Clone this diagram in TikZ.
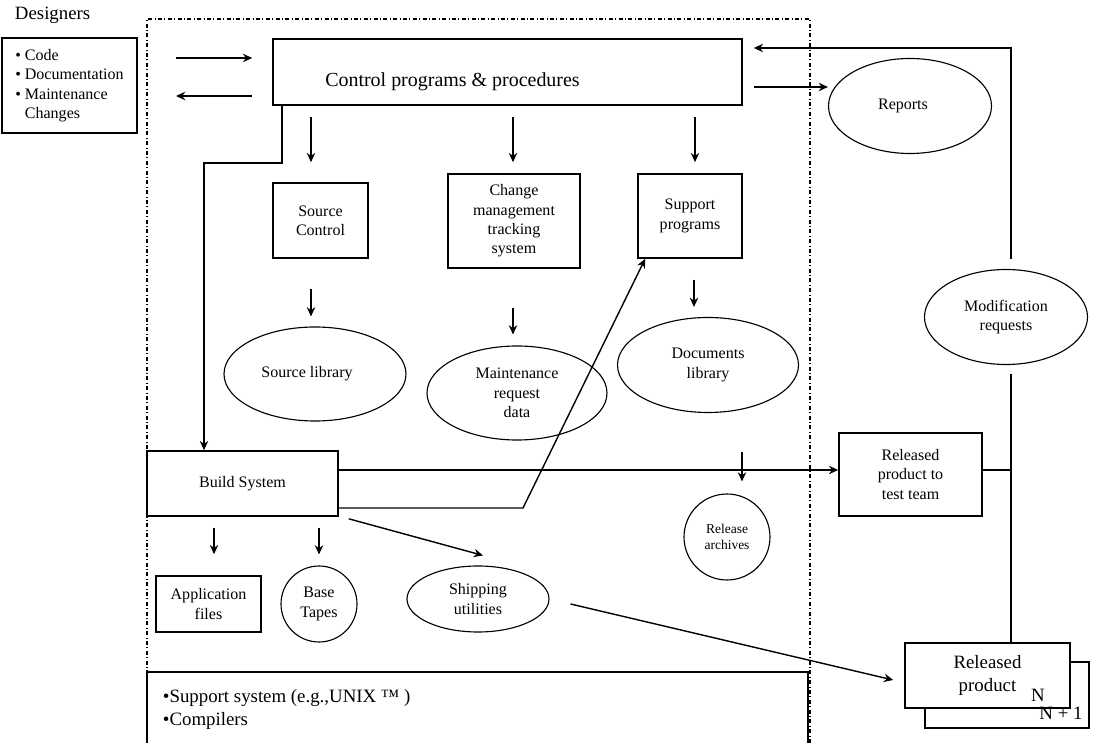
\documentclass[tikz,border=0pt]{standalone}
\usepackage{fontspec}
\setmainfont{Liberation Serif}
\usetikzlibrary{arrows.meta,shapes.geometric}

\newcommand{\txtnormal}{\fontsize{11.4pt}{13.8pt}\selectfont}
\newcommand{\txtlarge}{\fontsize{13.4pt}{16.4pt}\selectfont}
\newcommand{\txtctrl}{\fontsize{14.2pt}{17pt}\selectfont}
\newcommand{\txtsmall}{\fontsize{9.6pt}{11.4pt}\selectfont}

\begin{document}
\begin{tikzpicture}[x=0.25mm, y=-0.25mm,
  box/.style={draw, rectangle, line width=1.2pt, inner sep=0pt, align=center, font=\txtnormal},
  oval/.style={draw, ellipse, line width=0.8pt, inner sep=0pt, align=center, font=\txtnormal},
  disc/.style={draw, circle, line width=0.8pt, inner sep=0pt, align=center, font=\txtnormal},
  arr/.style={-{Stealth[length=2.3mm, width=2.1mm]}, line width=1pt},
  link/.style={line width=1pt},
  boundary/.style={line width=0.8pt, dash pattern=on 1mm off 0.6mm on 0.25mm off 0.6mm}]
  \useasboundingbox (0,0) rectangle (1096,743);

  % designers, outside the system
  \node[anchor=base west, font=\txtlarge] (designers) at (10,20) {Designers};
  \node[box, align=left, minimum width=33.75mm, minimum height=23.75mm] (devbox) at (69.5,85.5)
    {• Code\\• Documentation\\• Maintenance\\\phantom{• }Changes};

  % the configuration management system
  \draw[boundary] (147,743) |- (810,19) -- (810,743);

  \node[box, minimum width=117.25mm, minimum height=16.5mm] (ctrl) at (507.5,72) {};
  \node[font=\txtctrl] (ctrltext) at (452.5,82) {Control programs \& procedures};

  \node[box, minimum width=23.75mm, minimum height=18.75mm] (srcctl) at (320.5,220.5) {Source\\Control};
  \node[box, minimum width=33mm, minimum height=23.5mm] (chg) at (514,221) {Change\\management\\tracking\\system};
  \node[box, minimum width=26mm, minimum height=21mm] (supp) at (690,216) {Support\\programs};

  \node[oval, minimum width=45.5mm, minimum height=23.5mm] (srclib) at (315,374) {Source library\hspace*{4mm}};
  \node[oval, minimum width=45mm, minimum height=23.5mm] (mreq) at (517,393) {Maintenance\\request\\data};
  \node[oval, minimum width=45.25mm, minimum height=23.75mm] (doclib) at (708,365) {Documents\\library};

  \node[box, minimum width=47.75mm, minimum height=16.25mm] (build) at (242.5,483.5) {Build System};
  \node[box, minimum width=26.25mm, minimum height=14mm] (appfiles) at (208.5,604) {Application\\files};
  \node[disc, minimum size=19mm] (tapes) at (319,604) {Base\\Tapes};
  \node[oval, minimum width=35.5mm, minimum height=16.5mm] (ship) at (478,599) {Shipping\\utilities};
  \node[disc, minimum size=21.5mm, font=\txtsmall] (archive) at (727,537) {Release\\archives};

  % platform underneath
  \draw[line width=1.2pt] (147,743) |- (808,672) -- (808,743);
  \node[anchor=west, align=left, font=\txtlarge] (platform) at (158,709.5)
    {•Support system (e.g.,UNIX ™ )\\•Compilers};

  % outside, on the right
  \node[oval, minimum width=40.75mm, minimum height=23.75mm] (reports) at (910,106) {Reports\hspace*{3.5mm}};
  \node[oval, minimum width=40.75mm, minimum height=23.75mm] (modreq) at (1006,317) {Modification\\requests};
  \node[box, minimum width=35.75mm, minimum height=20.75mm] (testteam) at (910.5,474.5) {Released\\product to\\test team};
  \node[box, fill=white, minimum width=41mm, minimum height=16.5mm] (relnext) at (1007,695) {};
  \node[box, fill=white, minimum width=41.25mm, minimum height=16.25mm, font=\txtlarge] (relprod) at (987.5,675.5) {Released\\product};
  \node[font=\txtlarge] (verN) at (1038,695) {N};
  \node[font=\txtlarge] (verNext) at (1061,713) {N + 1};

  \coordinate (dIn) at (176,58);
  \coordinate (dOut) at (176,96);
  \coordinate (arcIn) at (742,452);
  \coordinate (trunk) at (1011,0);

  % designers <-> control
  \draw[arr, shorten >=5mm] (dIn) -- (dIn -| ctrl.west);
  \draw[arr, shorten <=5mm] (dOut -| ctrl.west) -- (dOut);

  % control fans out
  \draw[arr, shorten <=2.75mm, shorten >=5mm] (ctrl.south -| 311,0) -- (srcctl.north -| 311,0);
  \draw[arr, shorten <=2.75mm, shorten >=2.75mm] (ctrl.south -| 513,0) -- (chg.north -| 513,0);
  \draw[arr, shorten <=2.75mm, shorten >=2.75mm] (ctrl.south -| 695,0) -- (supp.north -| 695,0);
  \draw[arr, shorten <=2.75mm] (ctrl.east |- 0,87) -- (reports.west |- 0,87);
  \draw[arr] (ctrl.south -| 282,0) |- (204,163) -- (build.north -| 204,0);

  \draw[arr, shorten <=7.5mm, shorten >=2.5mm] (srcctl.south -| 311,0) -- (srclib.north -| 311,0);
  \draw[arr, shorten <=9.75mm, shorten >=2.75mm] (chg.south -| 513,0) -- (mreq.north -| 513,0);
  \draw[arr, shorten <=5.25mm, shorten >=2.5mm] (supp.south -| 694,0) -- (doclib.north -| 694,0);

  % build system outputs
  \draw[arr] (build.east |- 0,470) -- (testteam.west |- 0,470);
  \draw[arr] (build.east |- 0,508) -- (523,508) -- ([xshift=2mm]supp.south west);
  \draw[arr, shorten >=3mm] (arcIn) -- (archive.north -| arcIn);
  \draw[arr, shorten <=2.75mm, shorten >=5.25mm] (build.south -| 214,0) -- (appfiles.north -| 214,0);
  \draw[arr, shorten <=2.75mm, shorten >=2.75mm] (build.south -| 319,0) -- (tapes.north);
  \draw[arr] ([shift={(10,2)}]build.south east) -- ([shift={(5,-10)}]ship.north);
  \draw[arr] ([shift={(21,5)}]ship.east) -- ([shift={(-11,4.5)}]relprod.west);

  % feedback from the test team
  \draw[link] (testteam.east |- 0,470) -- (trunk |- 0,470);
  \draw[link] ([shift={(5,9)}]modreq.south) -- (relprod.north -| trunk);
  \draw[arr, shorten >=2.75mm] ([shift={(5,-10)}]modreq.north) |- (ctrl.east |- 0,48);
\end{tikzpicture}
\end{document}
